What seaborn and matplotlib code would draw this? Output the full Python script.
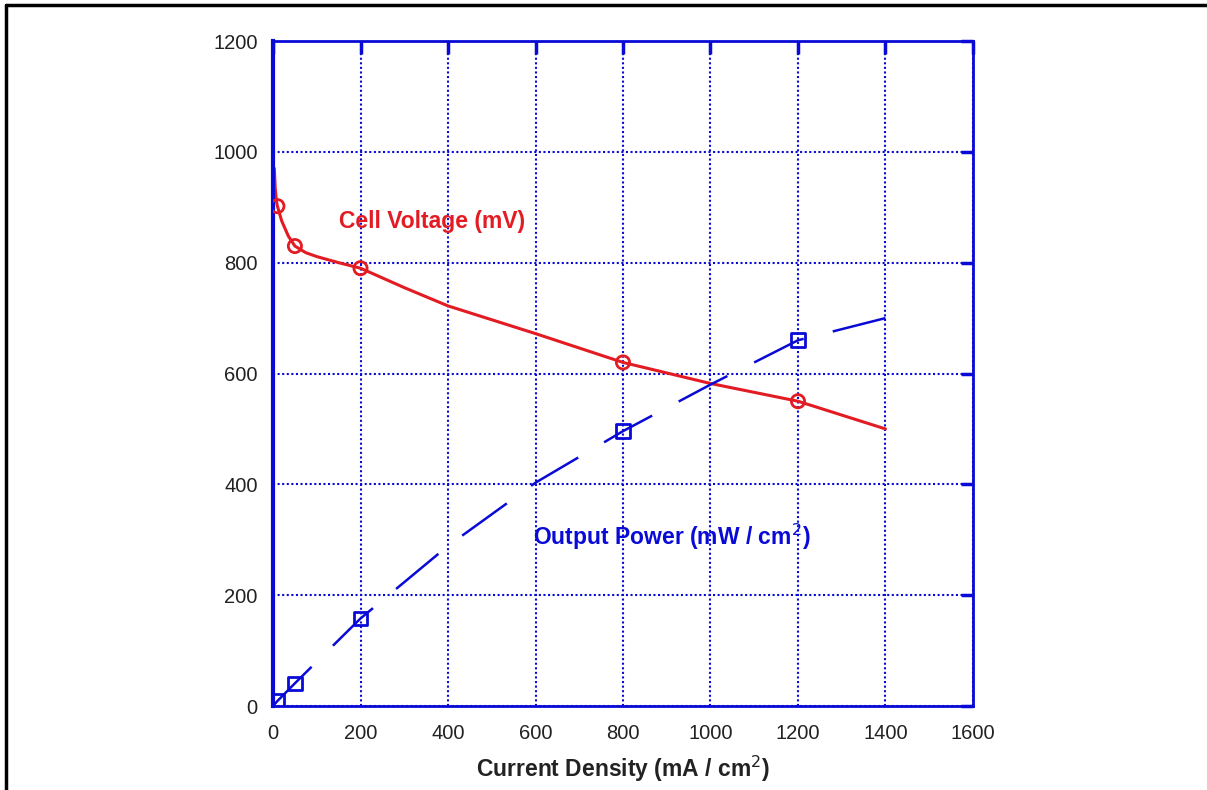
import matplotlib
matplotlib.use('Agg')
import matplotlib.pyplot as plt
from matplotlib.lines import Line2D
import pandas as pd
import seaborn as sns

# curve through the cell voltage readings (mA/cm2 -> mV)
voltage_curve_x = [3, 5, 8, 10, 20, 35, 50, 75, 100, 150, 200, 300, 400, 600, 800, 1000, 1200, 1400]
voltage_curve_y = [970, 935, 910, 902, 875, 848, 830, 818, 811, 800, 790, 755, 722, 672, 620, 582, 550, 500]

# output power curve (mW/cm2)
power_curve_x = [0, 10, 50, 200, 400, 600, 800, 1000, 1200, 1400]
power_curve_y = [0, 9, 41, 158, 289, 403, 496, 580, 660, 700]

# measured points
point_x = [10, 50, 200, 800, 1200]
voltage_points = [902, 830, 790, 620, 550]
power_points = [9, 41, 158, 496, 660]

x_ticks = [0, 200, 400, 600, 800, 1000, 1200, 1400, 1600]
y_ticks = [0, 200, 400, 600, 800, 1000, 1200]

RED = '#e31b23'
BLUE = '#0a0ad6'

sns.set_style('white')
plt.rcParams['font.family'] = ['Liberation Sans', 'DejaVu Sans']

fig = plt.figure(figsize=(12.07, 7.90), dpi=100)
ax = fig.add_axes([0.2262, 0.1063, 0.5799, 0.8418])

volt_df = pd.DataFrame({'x': voltage_curve_x, 'y': voltage_curve_y})
power_df = pd.DataFrame({'x': power_curve_x, 'y': power_curve_y})
pts = pd.DataFrame({'x': point_x, 'v': voltage_points, 'p': power_points})

sns.lineplot(data=volt_df, x='x', y='y', ax=ax, color=RED, linewidth=2.2)
sns.lineplot(data=power_df, x='x', y='y', ax=ax, color=BLUE, linewidth=1.8)
ax.lines[-1].set_dashes((22, 12))

sns.scatterplot(data=pts, x='x', y='v', ax=ax, marker='o', s=90,
                facecolor='none', edgecolor=RED, linewidth=2, zorder=5)
sns.scatterplot(data=pts, x='x', y='p', ax=ax, marker='s', s=95,
                facecolor='none', edgecolor=BLUE, linewidth=2, zorder=5)

ax.set_xlim(0, 1600)
ax.set_ylim(0, 1200)
ax.set_xticks(x_ticks)
ax.set_yticks(y_ticks)
ax.grid(True, color=BLUE, linestyle=(0, (1, 1.2)), linewidth=1.5)
ax.set_axisbelow(True)

for s in ax.spines.values():
    s.set_visible(True)
    s.set_color(BLUE)
    s.set_linewidth(2)
ax.spines['left'].set_linewidth(3)

ax.tick_params(axis='both', which='major', direction='in', length=9, width=2.5,
               color=BLUE, labelcolor='#222222', labelsize=14.5,
               top=True, right=True)
ax.tick_params(axis='x', pad=13)
ax.tick_params(axis='y', pad=11)

ax.set_xlabel('Current Density (mA / cm$^{2}$)', fontsize=16.5,
              fontweight='bold', color='#222222', labelpad=8)
ax.set_ylabel('')

ax.text(151, 875, 'Cell Voltage (mV)', color=RED, fontsize=16.5,
        fontweight='bold', va='center', ha='left')
ax.text(594, 305, 'Output Power (mW / cm$^{2}$)', color=BLUE, fontsize=16.5,
        fontweight='bold', va='center', ha='left')

# page frame (left and top edges)
fig.add_artist(Line2D([0.005, 0.005], [0, 0.994], transform=fig.transFigure,
                      color='black', linewidth=2.5))
fig.add_artist(Line2D([0.005, 1.0], [0.994, 0.994], transform=fig.transFigure,
                      color='black', linewidth=2.5))

fig.savefig('out.png', dpi=100)
